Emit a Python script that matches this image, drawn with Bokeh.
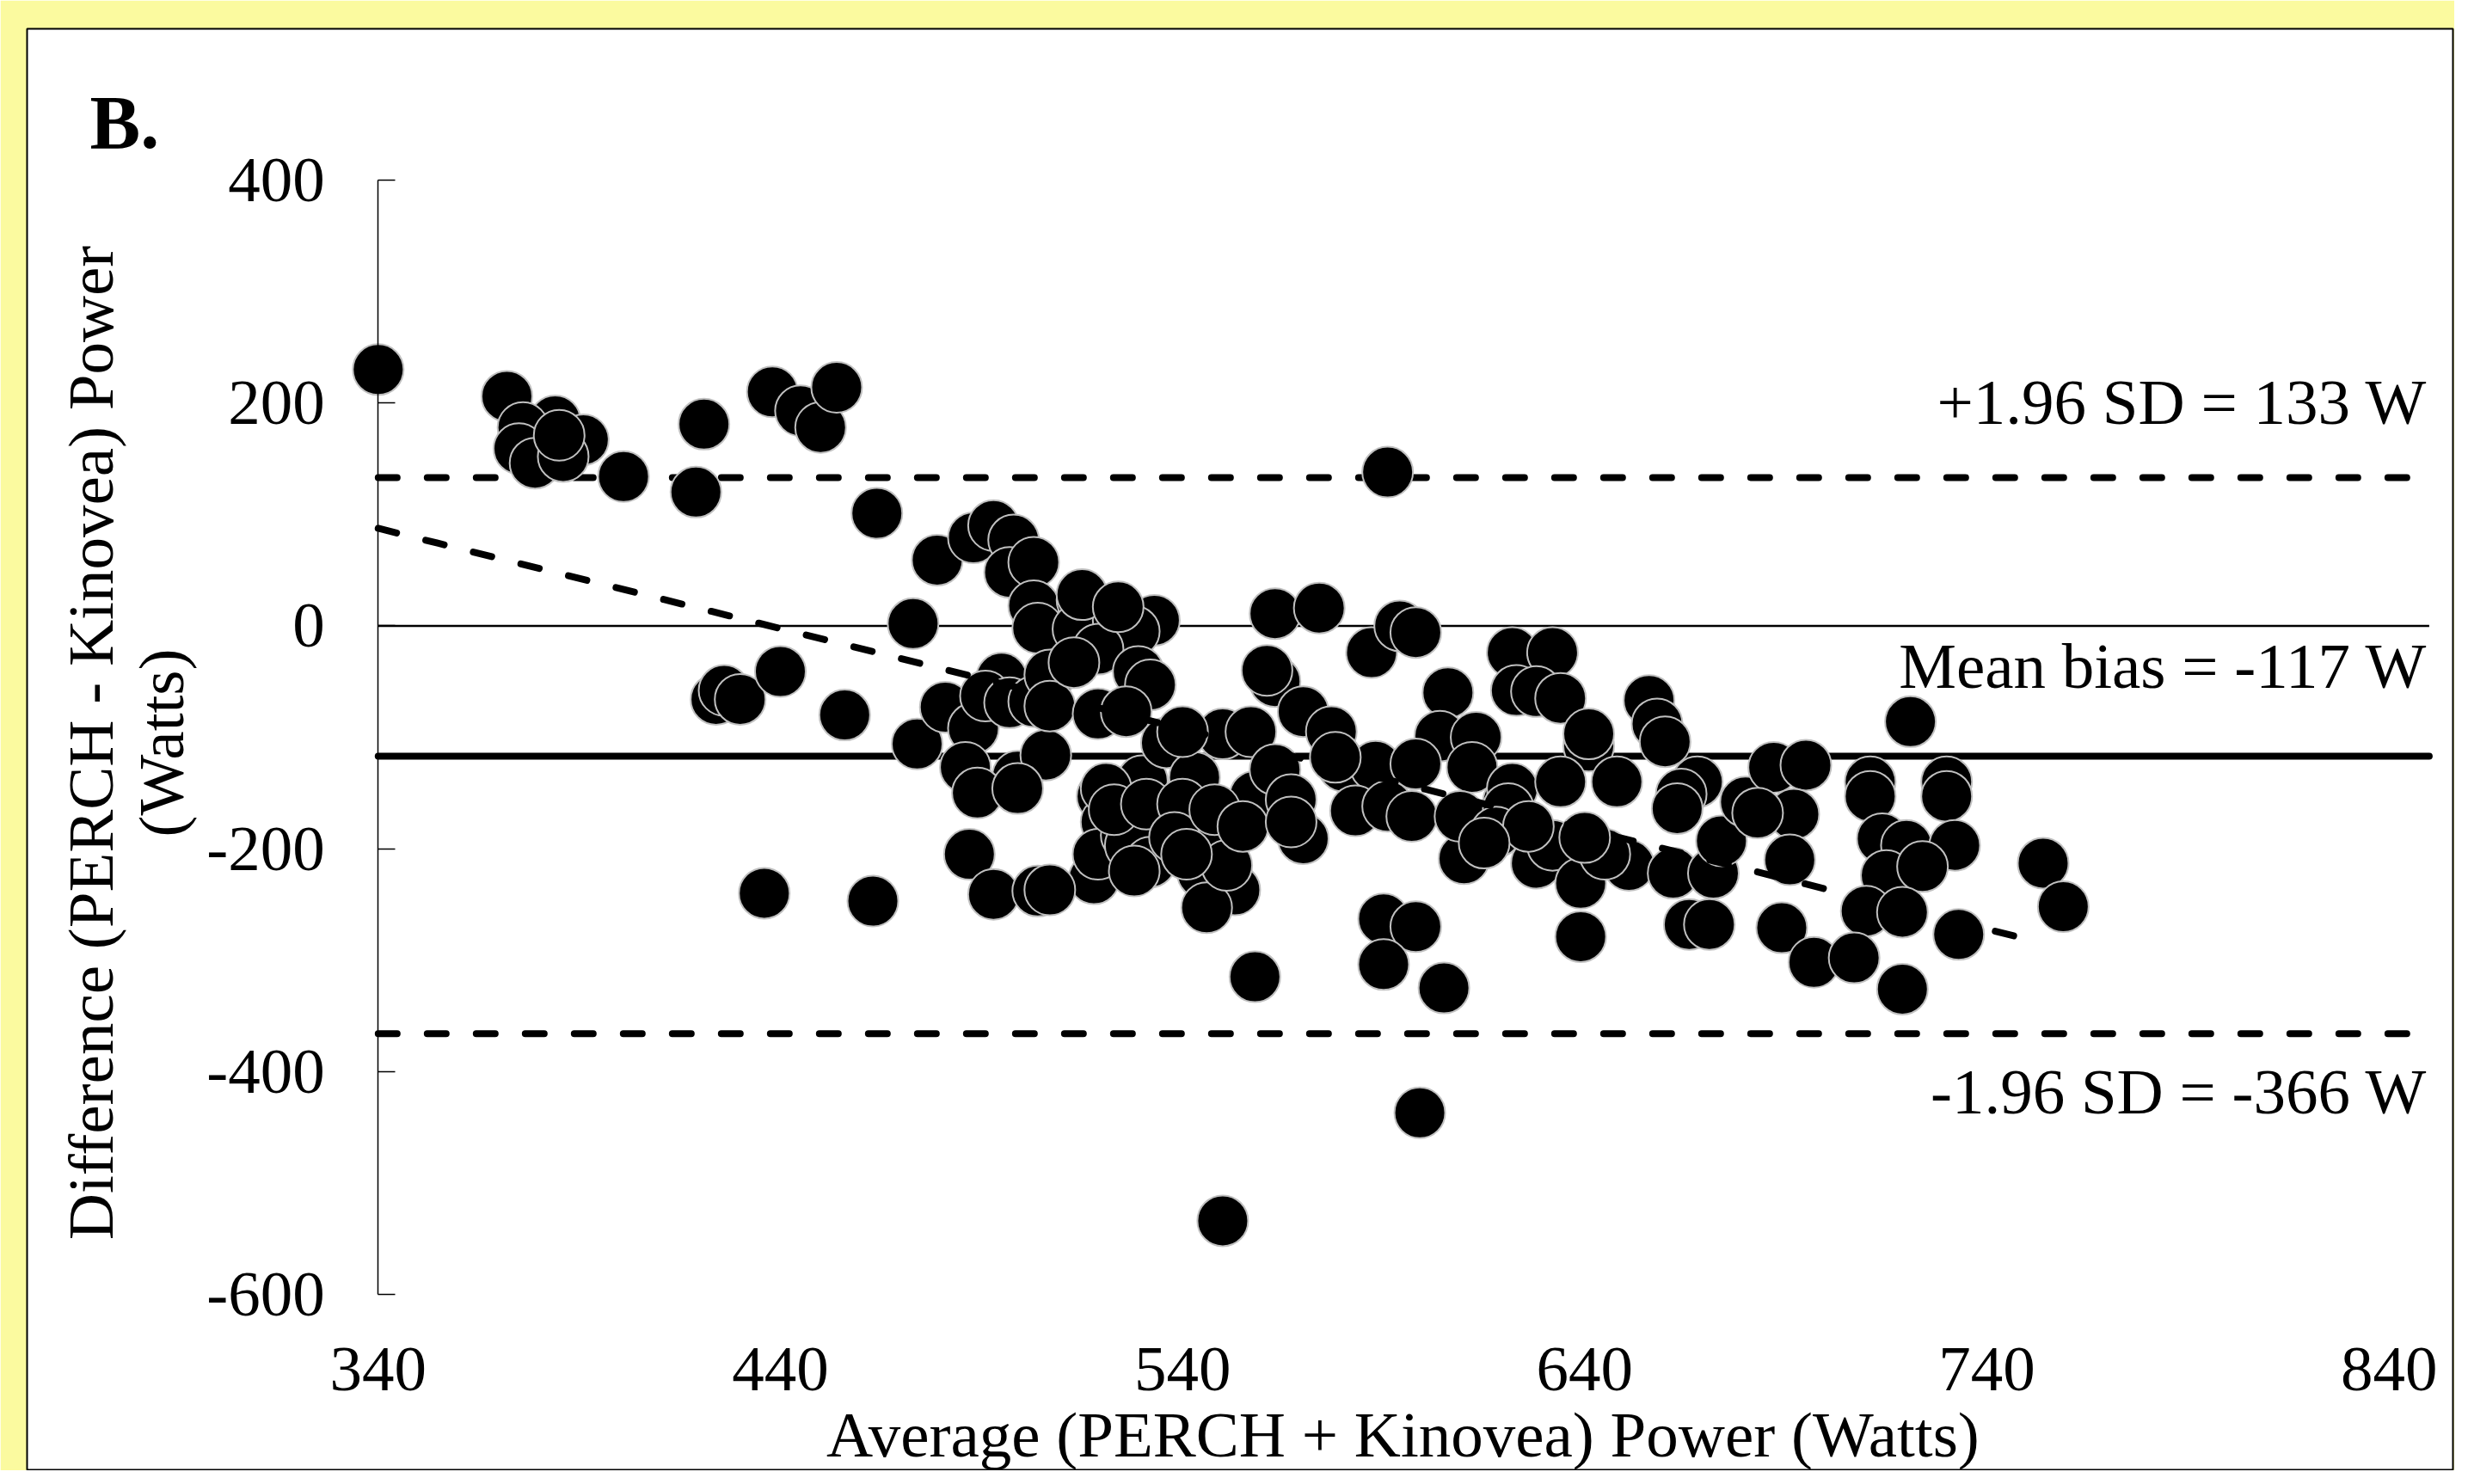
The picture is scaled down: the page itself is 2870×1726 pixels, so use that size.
from math import pi
from bokeh.plotting import figure
from bokeh.models import Range1d, LinearAxis, FixedTicker, Label
from bokeh.embed import file_html
from bokeh.resources import INLINE

# ---- data ----
avg_power = [
    340, 372, 384, 376, 391, 375, 379, 386, 385, 401, 421, 419, 438, 445, 450, 454, 464,
    424, 426, 430, 440, 456, 436, 463,
    479, 488, 493, 498, 497, 503, 503, 504, 473, 474, 481, 488, 486, 495, 491, 497, 503,
    507, 499, 506, 487, 493, 504, 489, 499, 507,
    515, 516, 514, 524, 533, 528, 519, 529, 532, 513, 519, 526, 515, 524, 520, 521, 518,
    519, 529, 536, 534, 526, 530, 536, 543, 547, 545, 553, 546, 551, 550, 557, 540, 558,
    521, 527, 532, 507, 558, 550,
    523, 531, 540, 538, 528, 541, 548, 555,
    563, 574, 563, 561, 570, 563, 567, 570, 577, 580, 588, 583, 587, 594, 598, 590, 598,
    590, 605, 599, 606, 604, 613, 610, 578, 598, 612, 591, 567, 591, 597, 609,
    622, 632, 623, 628, 634, 641, 641, 621, 628, 639, 632, 656, 658, 660, 622, 634, 648,
    621, 639, 651, 645,
    618, 626, 640, 615,
    668, 664, 662, 672, 674, 663, 666, 671, 680, 687, 695, 692, 683, 691, 689, 697,
    721, 711, 730, 711, 730, 714, 720, 732, 715, 724, 710, 719, 733, 707, 719, 754, 759,
]
diff_power = [
    230, 206, 184, 178, 167, 159, 146, 152, 171, 134, 181, 120, 210, 193, 178, 214, 101,
    -66, -58, -66, -41, -80, -240, -247,
    59, 79, 90, 77, 48, 57, 18, -2, 2, -106, -73, -92, -127, -47, -63, -69, -68,
    -44, -135, -116, -205, -241, -238, -150, -146, -72,
    23, 9, -3, 5, 5, -5, -21, -41, -53, -33, -79, -77, 28, 17, -153, -176, -227,
    -205, -174, -174, -205, -188, -139, -105, -136, -186, -222, -237, -253, -215, -97, -95, -95, -153,
    -146, -197, -212, -237, -315, -534,
    -165, -160, -160, -190, -220, -205, -165, -180,
    11, 16, -50, -40, -77, -129, -156, -191, -95, -126, -126, -166, -24, 0, -6, -263, -270,
    -304, -325, -437, -60, -99, -100, -209, -118, -124, -127, 138, -176, -162, -171, -171,
    -24, -24, -58, -59, -65, -108, -97, -158, -213, -279, -197, -67, -88, -104, -146, -140, -140,
    -164, -231, -215, -205,
    -185, -180, -190, -195,
    -140, -151, -222, -222, -193, -164, -268, -268, -158, -127, -125, -169, -168, -210, -271, -302,
    -86, -140, -140, -153, -153, -191, -197, -197, -224, -216, -256, -257, -277, -298, -326, -213, -252,
]

mean_bias = -117
upper_loa = 133
lower_loa = -366
reg_x = [340, 752]
reg_y = [87.5, -283]
line_x = [340, 850]

x_ticks = [340, 440, 540, 640, 740, 840]
y_ticks = [-600, -400, -200, 0, 200, 400]
y_tick_labels = ["-600", "-400", "-200", "0", "200", "400"]

x_title = "Average (PERCH + Kinovea) Power (Watts)"
y_title_1 = "Difference (PERCH - Kinovea) Power"
y_title_2 = "(Watts)"
panel_tag = "B."

FONT = "Liberation Serif"
FS = "75px"

p = figure(width=2854, height=1710,
           x_range=Range1d(252.69, 855.9), y_range=Range1d(-758.2, 535.8),
           x_axis_type=None, y_axis_type=None,
           output_backend="svg", toolbar_location=None,
           min_border_left=31, min_border_right=2, min_border_top=33, min_border_bottom=0)
p.background_fill_color = "white"
p.border_fill_color = "#fbfa9f"
p.outline_line_color = "black"
p.outline_line_width = 2

yaxis = LinearAxis(fixed_location=340, bounds=(-600, 400),
                   ticker=FixedTicker(ticks=y_ticks),
                   major_label_overrides={t: s for t, s in zip(y_ticks, y_tick_labels)},
                   axis_line_width=1.5, axis_line_color="black",
                   major_tick_in=20, major_tick_out=0, major_tick_line_width=1.5,
                   minor_tick_line_color=None,
                   major_label_standoff=62,
                   major_label_text_font=FONT, major_label_text_font_size=FS,
                   major_label_text_color="black")
p.add_layout(yaxis, "left")

xaxis = LinearAxis(fixed_location=-600,
                   ticker=FixedTicker(ticks=x_ticks),
                   axis_line_color=None, major_tick_line_color=None,
                   minor_tick_line_color=None,
                   major_label_standoff=57,
                   major_label_text_font=FONT, major_label_text_font_size=FS,
                   major_label_text_color="black")
p.add_layout(xaxis, "below")

# reference lines
p.line(line_x, [0, 0], line_width=2.5, color="black")
p.line(line_x, [upper_loa, upper_loa], line_width=8, color="black",
       line_dash="22 35", line_cap="round")
p.line(line_x, [lower_loa, lower_loa], line_width=8, color="black",
       line_dash="22 35", line_cap="round")
p.line(line_x, [mean_bias, mean_bias], line_width=8, color="black", line_cap="round")

# points
p.scatter(avg_power, diff_power, marker="circle", size=59,
          fill_color="black", line_color="#c0c0c0", line_width=2)

# regression (proportional bias) line
p.line(reg_x, reg_y, line_width=8, color="black", line_dash="22 35", line_cap="round")

def lab(x, y, text, **kw):
    opts = dict(text_font=FONT, text_font_size=FS, text_color="black",
                text_baseline="alphabetic")
    opts.update(kw)
    p.add_layout(Label(x=x, y=y, text=text, **opts))

lab(849.5, upper_loa + 68, f"+1.96 SD = {upper_loa} W", text_align="right")
lab(849.5, mean_bias + 80.7, f"Mean bias = {mean_bias} W", text_align="right")
lab(849.5, lower_loa - 52, f"-1.96 SD = {lower_loa} W", text_align="right")

lab(594.8, -725.5, x_title, text_align="center")
lab(268.6, -105, y_title_1, text_align="center", angle=pi / 2)
lab(286.1, -105, y_title_2, text_align="center", angle=pi / 2)
lab(268.3, 451.8, panel_tag, text_align="left", text_font_style="bold",
    text_font_size="88px")

open("out.html", "w").write(file_html(p, INLINE))
